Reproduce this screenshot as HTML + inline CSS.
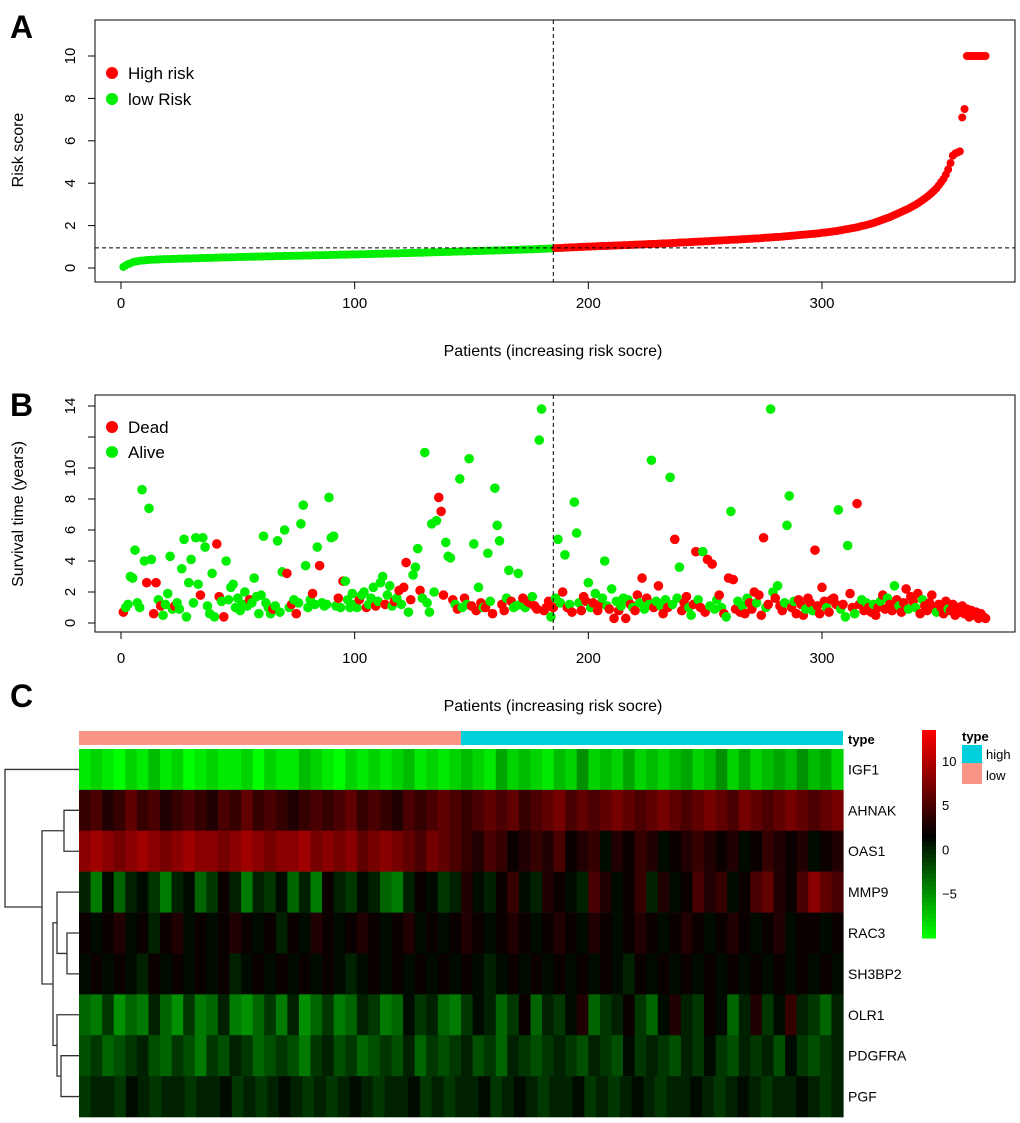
<!DOCTYPE html>
<html><head><meta charset="utf-8"><style>
body{margin:0;background:#fff;}
svg{display:block;font-family:"Liberation Sans",Arial,sans-serif;}
</style></head><body>
<svg id="fig" width="1020" height="1123" viewBox="0 0 1020 1123" xmlns="http://www.w3.org/2000/svg">
<rect width="1020" height="1123" fill="#fff"/>
<g id="pA"></g>
<g id="pB"></g>
<g id="pC"></g>
</svg>
<script>
// ---- Panel A data: risk score x100, sorted
const riskScores = [5,12,18,22,27,30,32,34,35,36,37,38,39,39,40,40,41,41,42,42,42,43,43,43,44,44,44,45,45,45,46,46,46,47,47,47,48,48,48,49,49,49,50,50,50,50,51,51,51,52,52,52,52,53,53,53,53,54,54,54,54,55,55,55,55,56,56,56,56,57,57,57,57,58,58,58,58,59,59,59,59,60,60,60,60,61,61,61,61,62,62,62,62,63,63,63,63,64,64,64,64,65,65,65,65,66,66,66,67,67,67,67,68,68,68,69,69,69,69,70,70,70,71,71,71,72,72,72,72,73,73,73,74,74,74,75,75,75,76,76,76,77,77,77,78,78,78,79,79,79,80,80,80,81,81,81,82,82,82,83,83,83,84,84,84,85,85,85,86,86,86,87,87,88,88,88,89,89,90,90,91,91,92,92,93,94,94,95,95,96,96,97,97,98,98,99,99,100,100,101,101,102,102,103,103,104,104,104,105,105,106,106,107,107,108,108,108,109,109,110,110,111,111,112,112,113,113,114,114,115,115,116,116,117,117,118,118,119,120,120,121,121,122,122,123,124,124,125,125,126,126,127,128,128,129,130,130,131,131,132,133,133,134,134,135,136,136,137,138,138,139,140,140,141,142,143,143,144,145,146,146,147,148,149,150,151,152,153,154,155,156,157,158,159,160,161,162,163,164,166,167,168,170,171,173,174,176,178,180,182,184,186,188,190,192,195,198,200,203,206,209,212,216,220,224,228,232,236,240,245,250,255,260,265,270,275,280,286,292,298,305,312,320,328,336,345,355,365,376,390,405,420,440,465,495,530,540,545,550,710,750,1000,1000,1000,1000,1000,1000,1000,1000,1000];
const riskCutoff = 0.95;
const cutIndex = 185;
const xTicks = [0,100,200,300];
const riskTicks = [0,2,4,6,8,10];
// ---- Panel B data
const survTime = [0.7,1.0,1.2,3.0,2.9,4.7,1.3,1.0,8.6,4.0, 2.6,7.4,4.1,0.6,2.6,1.5,1.1,0.5,1.2,1.9, 4.3,0.9,1.1,1.3,0.9,3.5,5.4,0.4,2.6,4.1, 1.3,5.5,2.5,1.8,5.5,4.9,1.1,0.6,3.2,0.4, 5.1,1.7,1.4,0.4,4.0,1.5,2.3,2.5,1.0,1.6, 0.8,1.2,2.0,1.1,1.5,1.3,2.9,1.7,0.6,1.8, 5.6,1.3,1.0,0.6,0.9,1.1,5.3,0.7,3.3,6.0, 3.2,1.0,1.2,1.5,0.6,1.3,6.4,7.6,3.7,1.0, 1.5,1.9,1.2,4.9,3.7,1.3,1.1,1.2,8.1,5.5, 5.6,1.1,1.6,1.0,2.7,2.7,1.5,1.0,1.9,1.2, 1.0,1.5,1.8,2.0,1.0,1.2,1.6,2.3,1.1,1.4, 2.6,3.0,1.2,1.8,2.4,1.1,1.4,1.6,2.1,1.2, 2.3,3.9,0.7,1.5,3.1,3.6,4.8,2.1,1.6,11.0, 1.3,0.7,6.4,2.0,6.6,8.1,7.2,1.8,5.2,4.3, 4.2,1.5,1.2,0.9,9.3,1.0,1.6,1.2,10.6,1.1, 5.1,0.8,2.3,1.3,1.0,1.0,4.5,1.4,0.6,8.7, 6.3,5.3,1.2,0.8,1.6,3.4,1.4,1.0,1.1,3.2, 1.2,1.6,1.0,1.4,1.3,1.7,1.1,0.9,11.8,13.8, 0.8,1.0,1.4,0.4,1.0,1.6,5.4,1.3,2.0,4.4, 1.0,1.2,0.7,7.8,5.8,1.3,0.8,1.7,1.4,2.6, 1.0,1.3,1.9,0.8,1.2,1.6,4.0,1.1,0.9,2.2, 0.3,1.4,0.8,1.1,1.6,0.3,1.5,1.2,1.0,0.8, 1.8,1.3,2.9,0.9,1.6,1.2,10.5,1.0,1.4,2.4, 1.1,0.6,1.5,1.0,9.4,1.2,5.4,1.6,3.6,0.8, 1.3,1.7,1.0,0.5,1.2,4.6,1.5,1.0,4.6,0.7, 4.1,1.1,3.8,0.9,1.5,1.8,1.0,0.6,0.4,2.9, 7.2,2.8,0.9,1.4,0.7,1.1,0.6,1.6,1.3,0.9, 2.0,1.3,1.8,0.5,5.5,1.0,1.2,13.8,2.0,1.6, 2.4,1.1,0.8,1.3,6.3,8.2,1.0,1.4,0.6,1.5, 1.2,0.5,0.9,1.6,1.3,0.8,4.7,1.1,0.6,2.3, 1.4,1.0,0.7,1.5,1.6,1.2,7.3,0.9,1.2,0.4, 5.0,1.9,1.0,0.6,7.7,1.2,1.5,0.8,1.3,1.0, 0.7,1.2,0.5,1.0,1.4,1.8,0.9,1.6,1.2,0.8, 2.4,1.5,1.1,0.7,1.3,2.2,0.9,1.7,1.4,1.0, 1.9,0.6,1.5,1.1,0.8,1.3,1.8,1.0,0.7,1.2, 1.0,0.6,1.4,0.9,0.8,1.2,0.5,1.0,0.7,1.1, 0.6,0.9,0.4,0.8,0.5,0.7,0.3,0.6,0.4,0.3];
const survStatus = [1,0,0,0,0,0,0,0,0,0, 1,0,0,1,1,0,1,0,0,0, 0,0,1,0,0,0,0,0,0,0, 0,0,0,1,0,0,0,0,0,0, 1,1,0,1,0,0,0,0,0,0, 0,0,0,0,1,0,0,0,0,0, 0,0,0,0,1,0,0,0,0,0, 1,0,1,0,1,0,0,0,0,0, 0,1,0,0,1,0,0,0,0,0, 0,0,1,0,1,0,0,0,0,0, 0,1,0,0,1,0,0,0,1,0, 0,0,1,0,0,0,1,0,1,0, 1,1,0,1,0,0,0,1,0,0, 0,0,0,0,0,1,1,1,0,0, 0,1,0,1,0,0,1,0,0,1, 0,1,0,1,0,1,0,0,1,0, 0,0,1,1,0,0,1,0,0,0, 0,1,0,1,1,0,1,1,0,0, 1,1,1,0,1,0,0,0,1,0, 1,0,1,0,0,0,1,1,1,0, 0,1,0,1,1,0,0,0,1,0, 1,0,1,0,0,1,0,1,0,1, 1,0,1,0,1,0,0,1,0,1, 0,1,0,1,0,0,1,0,0,1, 1,1,0,0,1,1,0,1,0,1, 1,0,1,0,0,1,0,1,0,1, 0,1,1,0,1,0,1,0,1,1, 1,0,1,1,1,0,1,0,0,1, 0,1,1,0,0,0,1,0,1,1, 1,1,0,1,1,0,1,1,1,1, 1,0,1,1,1,1,0,0,1,0, 0,1,1,0,1,1,0,1,0,1, 1,0,1,1,0,1,1,0,1,1, 0,1,0,1,1,1,0,1,1,0, 1,1,0,1,1,1,1,1,0,1, 1,1,1,0,1,1,1,1,1,1, 1,1,1,1,1,1,1,1,1,1];
const survTicks = [0,2,4,6,8,10,12,14];
const survTickLabels = ["0","2","4","6","8","10","","14"];
// ---- Panel C data: letters encode expression, 'A'=-10 ... 'K'=0 ... 'X'=13
const geneNames = ["IGF1","AHNAK","OAS1","MMP9","RAC3","SH3BP2","OLR1","PDGFRA","PGF"];
const geneRows = [
"BCBACBDBCABCBBCACBBDCBACBCBCDBCBCDCBECDCBDCFCDCECDCDECDFCECDEDFDEC",
"OPNOQOPNOPONPOQOPONOPOPQOPONPOPQPOPQPQOPQRPQPQRQPQRQPQRQPRQPQRQPQR",
"STSRSTSRSTSSRSTSRSSTRSRSQRSRQPRQPONPOMNONPMNOLNMONLMNONMNLMONMNLMN",
"KGLHKLJGKLHJMKGKJLHKGMKJLKHGKMLJKNLKMOLKNMLKPNLMOKNLMPNOLMPQNMPSQP",
"MLMNLMKMNLMLMNMLMKMLNMLMNMLMNLMLMNMLMNMLMNMLNMLMNMLMNMLMNMLMNLMMLM",
"LMLMLKMLMLMLMKLMLMLMLMLKLMLMLMLMLMLKLMLMLMLMLMLKMLMLMLMLMLMLMLMLML",
"HGJFHGKHFJGHKGFHJGKFHJGHKJGHLJKHGJLKHJMHKJLNHJKMJHLNKJMLHKNJLOKJHK",
"IJHIJKIHJIGJIKJHIJIGJKIJHIJIKHJIJKIJHKJIJKJIKJILJKJIKJLJIKJKILJIJK",
"JKKJLKJKKJKKLJKJKLKJKJKLKJKKLJKJKKLJKLKJKKLJKJKLKJKKLKJKLKJKKLKJK"];
const typeSplit = 185; // low: 1..185, high: 186..370
const colorbarTicks = [10,5,0,-5];

const NS="http://www.w3.org/2000/svg";
function el(tag,attrs,parent,text){const e=document.createElementNS(NS,tag);for(const k in attrs)e.setAttribute(k,attrs[k]);if(text!==undefined)e.textContent=text;parent.appendChild(e);return e;}
const RED="#ff0000", GREEN="#00ee00";
const N = riskScores.length;
const xs = i => 121 + (i)*(822-121)/300;

// ---------- Panel A ----------
(function(){
  const g=document.getElementById('pA');
  const ys = v => 268 - v*(268-56)/10;
  const l=el('text',{x:10,y:38,'font-size':32,'font-weight':'bold'},g,'A');
  
  
  const box=el('rect',{x:95,y:20,width:920,height:262,fill:'none',stroke:'#000','stroke-width':1},g);
  
  
  riskScores.forEach((v,i)=>{
    const c=el('circle',{cx:xs(i+1),cy:ys(v/100),r:4,fill:(i+1)>cutIndex?RED:GREEN},g);
    
    
  });
  const vl=el('line',{x1:xs(cutIndex),x2:xs(cutIndex),y1:20,y2:282,stroke:'#000','stroke-dasharray':'4,3'},g);
  
  
  const hl=el('line',{x1:95,x2:1015,y1:ys(riskCutoff),y2:ys(riskCutoff),stroke:'#000','stroke-dasharray':'4,3'},g);
  
  
  xTicks.forEach(t=>{
    el('line',{x1:xs(t),x2:xs(t),y1:282,y2:289,stroke:'#000'},g);
    const tx=el('text',{x:xs(t),y:308,'font-size':15,'text-anchor':'middle'},g,String(t));
    
    
  });
  riskTicks.forEach(t=>{
    el('line',{x1:95,x2:88,y1:ys(t),y2:ys(t),stroke:'#000'},g);
    const tx=el('text',{x:0,y:0,'font-size':15,'text-anchor':'middle',transform:`translate(75,${ys(t)}) rotate(-90)`},g,String(t));
    
    
  });
  const yt=el('text',{x:0,y:0,'font-size':16,'text-anchor':'middle',transform:'translate(23,150) rotate(-90)'},g,'Risk score');
  
  
  const xt=el('text',{x:553,y:356,'font-size':16,'text-anchor':'middle'},g,'Patients (increasing risk socre)');
  
  
  [['High risk',RED,73],['low Risk',GREEN,99]].forEach(([t,c,y])=>{
    const d=el('circle',{cx:112,cy:y,r:6,fill:c},g);
    
    
    const tx=el('text',{x:128,y:y+6,'font-size':17},g,t);
    
    
  });
})();

// ---------- Panel B ----------
(function(){
  const g=document.getElementById('pB');
  const ys = v => 623 - v*(623-406)/14;
  const l=el('text',{x:10,y:416,'font-size':32,'font-weight':'bold'},g,'B');
  
  
  const box=el('rect',{x:95,y:395,width:920,height:237,fill:'none',stroke:'#000'},g);
  
  
  survTime.forEach((v,i)=>{
    const c=el('circle',{cx:xs(i+1),cy:ys(v),r:4.8,fill:survStatus[i]?RED:GREEN},g);
    
    
  });
  const vl=el('line',{x1:xs(cutIndex),x2:xs(cutIndex),y1:395,y2:632,stroke:'#000','stroke-dasharray':'4,3'},g);
  
  
  xTicks.forEach(t=>{
    el('line',{x1:xs(t),x2:xs(t),y1:632,y2:639,stroke:'#000'},g);
    const tx=el('text',{x:xs(t),y:663,'font-size':15,'text-anchor':'middle'},g,String(t));
    
    
  });
  survTicks.forEach((t,k)=>{
    el('line',{x1:95,x2:88,y1:ys(t),y2:ys(t),stroke:'#000'},g);
    const tx=el('text',{x:0,y:0,'font-size':15,'text-anchor':'middle',transform:`translate(75,${ys(t)}) rotate(-90)`},g,survTickLabels[k]);
    
    
  });
  const yt=el('text',{x:0,y:0,'font-size':16,'text-anchor':'middle',transform:'translate(23,514) rotate(-90)'},g,'Survival time (years)');
  
  
  const xt=el('text',{x:553,y:711,'font-size':16,'text-anchor':'middle'},g,'Patients (increasing risk socre)');
  
  
  [['Dead',RED,427],['Alive',GREEN,452]].forEach(([t,c,y])=>{
    const d=el('circle',{cx:112,cy:y,r:6,fill:c},g);
    
    
    const tx=el('text',{x:128,y:y+6,'font-size':17},g,t);
    
    
  });
})();

// ---------- Panel C ----------
(function(){
  const g=document.getElementById('pC');
  const l=el('text',{x:10,y:707,'font-size':32,'font-weight':'bold'},g,'C');
  
  
  const X0=79, X1=843, Y0=749, RH=(1117-749)/9;
  const BLK=1.5, VMAX=13.5, VMIN=-10;
  function col(v){
    if(v>=BLK){const r=Math.min(255,Math.round(255*(v-BLK)/(VMAX-BLK)));return `rgb(${r},0,0)`;}
    const gg=Math.min(255,Math.round(255*(BLK-v)/(BLK-VMIN)));return `rgb(0,${gg},0)`;
  }
  const xc = i => X0 + (X1-X0)*i/370;
  const lo=el('rect',{x:X0,y:731,width:xc(typeSplit)-X0,height:14,fill:'#fa9484'},g);
  
  
  const hi=el('rect',{x:xc(typeSplit),y:731,width:X1-xc(typeSplit),height:14,fill:'#00cfdc'},g);
  
  
  const tt=el('text',{x:848,y:744,'font-size':13,'font-weight':'bold'},g,'type');
  
  
  geneRows.forEach((s,r)=>{
    const w=(X1-X0)/s.length;
    for(let j=0;j<s.length;j++){
      const v=s.charCodeAt(j)-75;
      const c=el('rect',{x:X0+j*w,y:Y0+r*RH,width:w+0.6,height:RH+0.3,fill:col(v)},g);
      
      
    }
    const tx=el('text',{x:848,y:Y0+r*RH+RH/2+5,'font-size':14},g,geneNames[r]);
    
    
  });
  const cy=r=>Y0+r*RH+RH/2;
  const dp = [
    `M79 ${cy(1)} H64 V${cy(2)} H79`,
    `M79 ${cy(4)} H67 V${cy(5)} H79`,
    `M79 ${cy(3)} H57 V${(cy(4)+cy(5))/2} H67`,
    `M79 ${cy(7)} H61 V${cy(8)} H79`,
    `M79 ${cy(6)} H57 V${(cy(7)+cy(8))/2} H61`,
    `M57 ${(cy(3)+(cy(4)+cy(5))/2)/2} H53 V${(cy(6)+(cy(7)+cy(8))/2)/2} H57`,
    `M64 ${(cy(1)+cy(2))/2} H42 V984 H53`,
    `M79 ${cy(0)} H5 V907 H42`
  ];
  const dg=el('path',{d:dp.join(' '),fill:'none',stroke:'#333','stroke-width':1.3},g);
  
  
  const CB0=730, CB1=938;
  const cbY = v => CB0 + (VMAX-v)/(VMAX-VMIN)*(CB1-CB0);
  for(let k=0;k<52;k++){
    const v=VMAX-(k+0.5)*(VMAX-VMIN)/52;
    const s=el('rect',{x:922,y:CB0+k*(CB1-CB0)/52,width:14,height:(CB1-CB0)/52+0.5,fill:col(v)},g);
    
    
  }
  colorbarTicks.forEach(t=>{
    const tx=el('text',{x:942,y:cbY(t)+5,'font-size':13},g,t<0?'\u2212'+(-t):String(t));
    
    
  });
  const lt=el('text',{x:962,y:741,'font-size':13,'font-weight':'bold'},g,'type');
  
  
  const b1=el('rect',{x:962,y:745,width:20,height:18,fill:'#00cfdc'},g);
  
  
  const b2=el('rect',{x:962,y:763,width:20,height:21,fill:'#fa9484'},g);
  
  
  const t1=el('text',{x:986,y:759,'font-size':13},g,'high');
  
  
  const t2=el('text',{x:986,y:780,'font-size':13},g,'low');
  
  
})();
</script>
</body></html>
